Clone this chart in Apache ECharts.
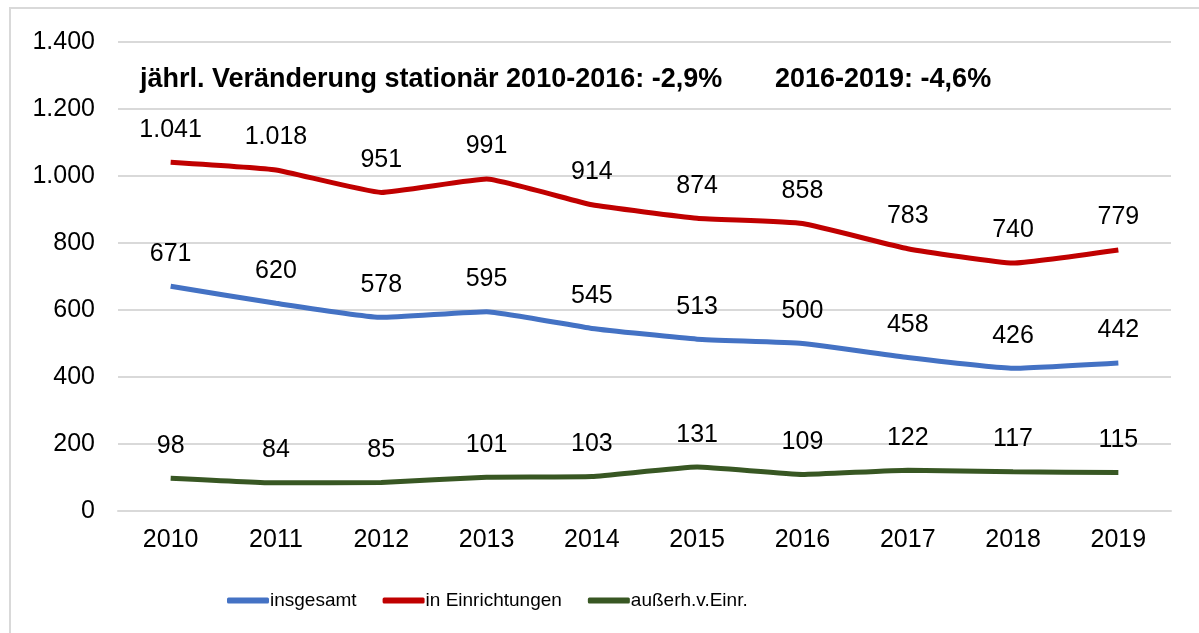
<!DOCTYPE html>
<html>
<head>
<meta charset="utf-8">
<script src="https://cdn.jsdelivr.net/npm/echarts@6/dist/echarts.min.js"></script>
<style>
  html, body { margin: 0; padding: 0; background: #fff; }
  #chart { width: 1199px; height: 633px; }
</style>
</head>
<body>
<div id="chart"></div>
<script>
const years = ["2010", "2011", "2012", "2013", "2014", "2015", "2016", "2017", "2018", "2019"];
const insgesamt = [671, 620, 578, 595, 545, 513, 500, 458, 426, 442];
const inEinrichtungen = [1041, 1018, 951, 991, 914, 874, 858, 783, 740, 779];
const ausserhalb = [98, 84, 85, 101, 103, 131, 109, 122, 117, 115];
const titleLeft = "jährl. Veränderung stationär 2010-2016: -2,9%";
const titleRight = "2016-2019: -4,6%";

const chart = echarts.init(document.getElementById("chart"));

// Zahlen mit Tausenderpunkt
function de(v) {
  return String(v).replace(/\B(?=(\d{3})+(?!\d))/g, ".");
}

function line(name, data, color) {
  return {
    name: name,
    type: "line",
    data: data,
    smooth: 0.12,
    symbol: "circle",
    symbolSize: 0,
    showSymbol: true,
    lineStyle: { color: color, width: 5 },
    itemStyle: { color: color },
    label: {
      show: true,
      position: "top",
      distance: 20,
      color: "#000",
      fontSize: 25,
      fontFamily: "Liberation Sans, Arial",
      formatter: (p) => de(p.value),
    },
  };
}

const option = {
  backgroundColor: "#fff",
  animation: false,
  textStyle: { fontFamily: "Liberation Sans, Arial" },
  grid: { left: 118, right: 28, top: 42, bottom: 122 },
  graphic: [
    {
      type: "rect",
      shape: { x: 10, y: 8, width: 1300, height: 700 },
      style: { fill: "none", stroke: "#d9d9d9", lineWidth: 2 },
      silent: true,
    },
    {
      type: "text",
      left: 140,
      top: 66,
      style: { text: titleLeft, font: "bold 27px 'Liberation Sans', Arial", fill: "#000" },
    },
    {
      type: "text",
      left: 775,
      top: 66,
      style: { text: titleRight, font: "bold 27px 'Liberation Sans', Arial", fill: "#000" },
    },
  ],
  legend: {
    bottom: 18,
    left: 222,
    itemWidth: 42,
    itemHeight: 6,
    itemGap: 26,
    icon: "roundRect",
    textStyle: { fontSize: 19, color: "#000", padding: [0, 0, 0, -4] },
    data: ["insgesamt", "in Einrichtungen", "außerh.v.Einr."],
  },
  xAxis: {
    type: "category",
    data: years,
    axisLine: { lineStyle: { color: "#d9d9d9", width: 2 } },
    axisTick: { show: false },
    axisLabel: { color: "#000", fontSize: 25, margin: 17 },
  },
  yAxis: {
    type: "value",
    min: 0,
    max: 1400,
    interval: 200,
    axisLine: { show: false },
    axisTick: { show: false },
    splitLine: { lineStyle: { color: "#d9d9d9", width: 2 } },
    axisLabel: { color: "#000", fontSize: 25, margin: 23, formatter: (v) => de(v) },
  },
  series: [
    line("insgesamt", insgesamt, "#4472C4"),
    line("in Einrichtungen", inEinrichtungen, "#C00000"),
    line("außerh.v.Einr.", ausserhalb, "#385723"),
  ],
};

chart.setOption(option);
window.onresize = function () {
  chart.resize();
};
</script>
</body>
</html>
